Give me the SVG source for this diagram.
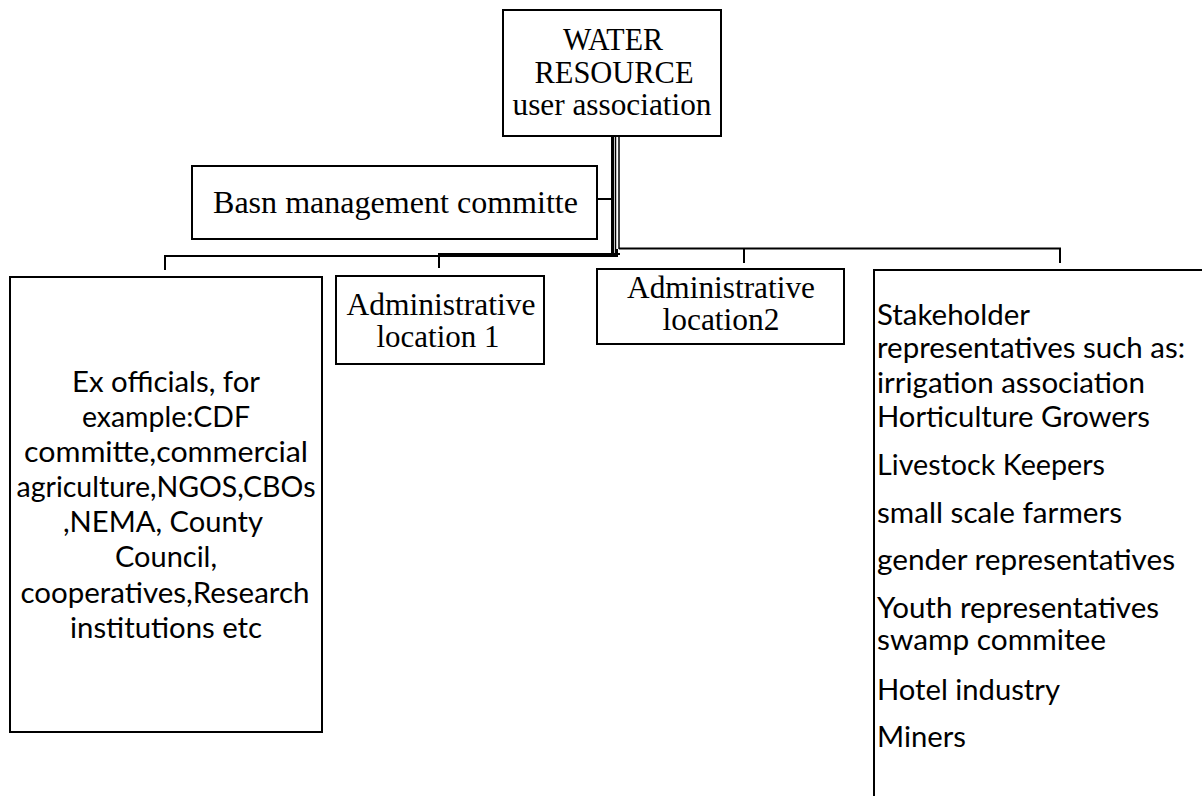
<svg xmlns="http://www.w3.org/2000/svg" width="1202" height="796" viewBox="0 0 1202 796">
<style>
  .box { fill: #ffffff; stroke: #000000; stroke-width: 2; }
  .ln { fill: none; stroke: #000000; stroke-width: 2; }
  .tn { font-family: "Liberation Serif", "Times New Roman", serif; font-size: 31px; fill: #000000; text-anchor: middle; }
  .cb { font-family: Lato, "Liberation Sans", sans-serif; font-size: 29px; fill: #000000; }
  .mid { text-anchor: middle; }
</style>
<rect x="0" y="0" width="1202" height="796" fill="#ffffff"/>
<g id="connectors">
  <line class="ln" x1="612.5" y1="136" x2="612.5" y2="257" style="stroke-width:3"/>
  <line class="ln" x1="615.5" y1="136" x2="615.5" y2="257" style="stroke-width:1.5"/>
  <line class="ln" x1="619" y1="136" x2="619" y2="249" style="stroke-width:1.5"/>
  <polyline class="ln" points="597,199 612,199"/>
  <polyline class="ln" points="165,270 165,256 617,256 617,249"/>
  <polyline class="ln" points="439,268 439,254 620,254"/>
  <polyline class="ln" points="619,248.5 1060,248.5 1060,263"/>
  <line class="ln" x1="744" y1="248.5" x2="744" y2="263"/>
</g>
<g id="water-resource">
  <rect class="box" x="503" y="10" width="218" height="126"/>
  <text class="tn" x="613" y="50" textLength="100" lengthAdjust="spacingAndGlyphs">WATER</text>
  <text class="tn" x="614" y="83" textLength="159" lengthAdjust="spacingAndGlyphs">RESOURCE</text>
  <text class="tn" x="612" y="115" textLength="199" lengthAdjust="spacingAndGlyphs">user association</text>
</g>
<g id="basin-committee">
  <rect class="box" x="192" y="166" width="405" height="73"/>
  <text class="tn" x="395.5" y="213" textLength="365" lengthAdjust="spacingAndGlyphs">Basn management committe</text>
</g>
<g id="ex-officials">
  <rect class="box" x="10" y="277" width="312" height="455"/>
  <text class="cb mid" x="166" y="392" textLength="188" lengthAdjust="spacingAndGlyphs">Ex officials, for</text>
  <text class="cb mid" x="166" y="427" textLength="168" lengthAdjust="spacingAndGlyphs">example:CDF</text>
  <text class="cb mid" x="166" y="462" textLength="284" lengthAdjust="spacingAndGlyphs">committe,commercial</text>
  <text class="cb mid" x="166" y="497" textLength="299" lengthAdjust="spacingAndGlyphs">agriculture,NGOS,CBOs</text>
  <text class="cb mid" x="163" y="532" textLength="200" lengthAdjust="spacingAndGlyphs">,NEMA, County</text>
  <text class="cb mid" x="166" y="567" textLength="102" lengthAdjust="spacingAndGlyphs">Council,</text>
  <text class="cb mid" x="165" y="603" textLength="289" lengthAdjust="spacingAndGlyphs">cooperatives,Research</text>
  <text class="cb mid" x="166" y="638" textLength="192" lengthAdjust="spacingAndGlyphs">institutions etc</text>
</g>
<g id="admin-location-1">
  <rect class="box" x="336" y="276" width="208" height="88"/>
  <text class="tn" x="441" y="315" textLength="189" lengthAdjust="spacingAndGlyphs">Administrative</text>
  <text class="tn" x="438" y="347" textLength="123" lengthAdjust="spacingAndGlyphs">location 1</text>
</g>
<g id="admin-location-2">
  <rect class="box" x="597" y="269" width="247" height="75"/>
  <text class="tn" x="721" y="298" textLength="188" lengthAdjust="spacingAndGlyphs">Administrative</text>
  <text class="tn" x="721" y="330" textLength="117" lengthAdjust="spacingAndGlyphs">location2</text>
</g>
<g id="stakeholders">
  <rect class="box" x="874" y="270" width="340" height="540"/>
  <text class="cb" x="877" y="325" textLength="153" lengthAdjust="spacingAndGlyphs">Stakeholder</text>
  <text class="cb" x="877" y="358" textLength="308" lengthAdjust="spacingAndGlyphs">representatives such as:</text>
  <text class="cb" x="877" y="393" textLength="268" lengthAdjust="spacingAndGlyphs">irrigation association</text>
  <text class="cb" x="877" y="427" textLength="273" lengthAdjust="spacingAndGlyphs">Horticulture Growers</text>
  <text class="cb" x="877" y="475" textLength="228" lengthAdjust="spacingAndGlyphs">Livestock Keepers</text>
  <text class="cb" x="877" y="523" textLength="245" lengthAdjust="spacingAndGlyphs">small scale farmers</text>
  <text class="cb" x="877" y="570" textLength="298" lengthAdjust="spacingAndGlyphs">gender representatives</text>
  <text class="cb" x="877" y="618" textLength="282" lengthAdjust="spacingAndGlyphs">Youth representatives</text>
  <text class="cb" x="877" y="650" textLength="229" lengthAdjust="spacingAndGlyphs">swamp commitee</text>
  <text class="cb" x="877" y="700" textLength="183" lengthAdjust="spacingAndGlyphs">Hotel industry</text>
  <text class="cb" x="877" y="747" textLength="89" lengthAdjust="spacingAndGlyphs">Miners</text>
</g>
</svg>
